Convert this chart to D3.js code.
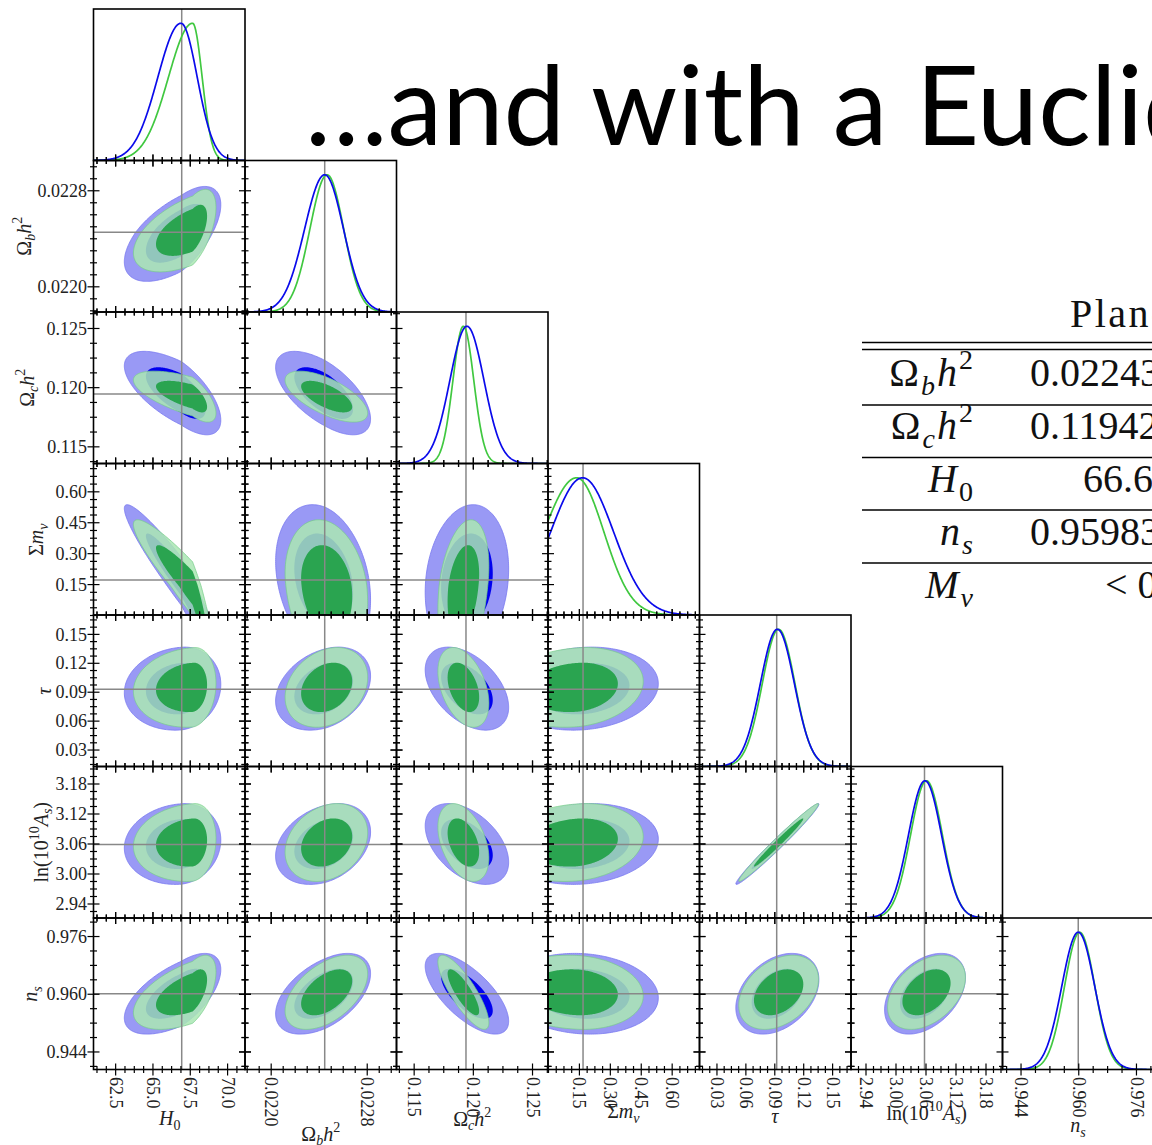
<!DOCTYPE html>
<html>
<head>
<meta charset="utf-8">
<script src="https://cdn.jsdelivr.net/npm/d3@7"></script>
<style>
  body { margin: 0; background: #fff; }
  svg { display: block; }
</style>
</head>
<body>
<svg id="fig" width="1152" height="1145"></svg>
<script>
// ---------------- parameters and axes ----------------
const paramNames = ["H0", "omegabh2", "omegach2", "mnu", "tau", "logA", "ns"];
const axisLo = [61.05, 0.021786, 0.11355, 0.0, 0.0124, 2.911, 0.939];
const axisHi = [71.2, 0.023048, 0.12635, 0.735, 0.1696, 3.214, 0.981];
const truthValues = [66.96, 0.02245, 0.11942, 0.17, 0.0925, 3.058, 0.960];
const tickLabelValues = [
  [62.5, 65.0, 67.5, 70.0],
  [0.0220, 0.0228],
  [0.115, 0.120, 0.125],
  [0.15, 0.30, 0.45, 0.60],
  [0.03, 0.06, 0.09, 0.12, 0.15],
  [2.94, 3.00, 3.06, 3.12, 3.18],
  [0.944, 0.960, 0.976]
];
const tickDecimals = [1, 4, 3, 2, 2, 2, 3];
const minorStep = [0.625, 0.0001, 0.00125, 0.0375, 0.0075, 0.015, 0.004];

// axis label pieces: t = text, it = italic, sub / sup = script position
const axisLabelParts = [
  [{t: "H", it: 1}, {t: "0", sub: 1}],
  [{t: "Ω"}, {t: "b", it: 1, sub: 1}, {t: "h", it: 1}, {t: "2", sup: 1}],
  [{t: "Ω"}, {t: "c", it: 1, sub: 1}, {t: "h", it: 1}, {t: "2", sup: 1}],
  [{t: "Σ"}, {t: "m", it: 1}, {t: "ν", it: 1, sub: 1}],
  [{t: "τ", it: 1}],
  [{t: "ln(10"}, {t: "10", sup: 1}, {t: "A", it: 1}, {t: "s", it: 1, sub: 1}, {t: ")"}],
  [{t: "n", it: 1}, {t: "s", it: 1, sub: 1}]
];

// ---------------- posterior summaries (blue and green runs) ----------------
// mode, lower / upper widths (split normal) for each parameter
const blueMode      = [66.91, 0.02245, 0.11950, 0.168, 0.0932, 3.059, 0.9600];
const blueSigmaLow  = [1.55, 0.000167, 0.00144, 0.155, 0.0176, 0.033, 0.00457];
const blueSigmaHigh = [1.09, 0.000156, 0.00144, 0.150, 0.0176, 0.033, 0.00457];
const greenMode      = [67.69, 0.02247, 0.11920, 0.139, 0.0945, 3.062, 0.9604];
const greenSigmaLow  = [1.62, 0.000143, 0.00088, 0.160, 0.0169, 0.0318, 0.0042];
const greenSigmaHigh = [0.64, 0.000138, 0.00088, 0.132, 0.0169, 0.0318, 0.0042];
// correlation of (row parameter, column parameter), lower triangle
const blueCorr = [
  [],
  [0.60],
  [-0.65, -0.62],
  [-0.95, -0.25, 0.15],
  [0.10, 0.30, -0.45, 0.12],
  [0.10, 0.30, -0.45, 0.12, 0.985],
  [0.60, 0.50, -0.68, -0.10, 0.35, 0.40]
];
const greenCorr = [
  [],
  [0.55],
  [-0.65, -0.65],
  [-0.93, -0.20, 0.30],
  [0.10, 0.25, -0.40, 0.15],
  [0.10, 0.25, -0.40, 0.15, 0.985],
  [0.55, 0.50, -0.82, -0.10, 0.35, 0.40]
];
const contourRadius = {inner: 1.515, outer: 2.448}; // 68% and 95% in two dimensions

// ---------------- table ----------------
const tableHeader = "Planck";
const tableSymbols = [
  [{t: "Ω"}, {t: "b", it: 1, sub: 1}, {t: "h", it: 1}, {t: "2", sup: 1}],
  [{t: "Ω"}, {t: "c", it: 1, sub: 1}, {t: "h", it: 1}, {t: "2", sup: 1}],
  [{t: "H", it: 1}, {t: "0", sub: 1}],
  [{t: "n", it: 1}, {t: "s", it: 1, sub: 1}],
  [{t: "M", it: 1}, {t: "ν", it: 1, sub: 1}]
];
const tableValues = ["0.02243", "0.11942", "66.6", "0.95983", "< 0"];

const titleText = "…and with a Euclid";

// ---------------- layout ----------------
const N = paramNames.length;
const X0 = 93.5, Y0 = 9, CELL = 151.5;
const SERIF = "'Liberation Serif', 'DejaVu Serif', serif";
// centres of the axis titles (x titles: vertical centre, y titles: horizontal centre)
const xTitleCentreY = [1120, 1134, 1119, 1113, 1116, 1113, 1127];
const yTitleCentreX = [0, 24, 27, 38, 43.5, 41, 32];
const col = {
  blueOuter: "rgb(153,153,245)", blueOuterEdge: "rgb(120,120,240)",
  blueInner: "rgb(0,0,238)",
  greenOuter: "rgba(170,230,179,0.86)", greenOuterEdge: "rgba(120,205,140,0.9)",
  greenInner: "rgb(42,164,80)",
  blueLine: "rgb(10,10,235)", greenLine: "rgb(64,200,64)",
  truth: "#888"
};

const svg = d3.select("#fig");
const defs = svg.append("defs");

const xScale = d3.range(N).map(i => d3.scaleLinear().domain([axisLo[i], axisHi[i]])
  .range([X0 + i * CELL, X0 + (i + 1) * CELL]));
const yScale = d3.range(N).map(i => d3.scaleLinear().domain([axisLo[i], axisHi[i]])
  .range([Y0 + (i + 1) * CELL, Y0 + i * CELL]));

function splitWidth(z, lo, hi) { return z < 0 ? lo : hi; }
function density(x, m, lo, hi) {
  const s = x < m ? lo : hi;
  return Math.exp(-0.5 * ((x - m) / s) ** 2);
}

// math-style text built from pieces
function addMath(textSel, parts, size) {
  let cur = 0;
  parts.forEach(p => {
    const target = p.sub ? size * 0.22 : (p.sup ? -size * 0.42 : 0);
    const ts = textSel.append("tspan").text(p.t).attr("dy", target - cur);
    cur = target;
    if (p.it) ts.attr("font-style", "italic");
    if (p.sub || p.sup) ts.attr("font-size", size * 0.7);
  });
}

const panels = svg.append("g");

function cellClip(i, j) {
  const id = `clip-${i}-${j}`;
  defs.append("clipPath").attr("id", id).append("rect")
    .attr("x", X0 + j * CELL).attr("y", Y0 + i * CELL)
    .attr("width", CELL).attr("height", CELL);
  return `url(#${id})`;
}

const lineGen = d3.line().curve(d3.curveLinearClosed);

function contourPath(i, j, mode, sLo, sHi, rho, r) {
  const pts = d3.range(0, 2 * Math.PI, Math.PI / 120).map(t => {
    const u = r * Math.cos(t), v = r * Math.sin(t);
    const zx = u, zy = rho * u + Math.sqrt(1 - rho * rho) * v;
    const xv = mode[j] + zx * splitWidth(zx, sLo[j], sHi[j]);
    const yv = mode[i] + zy * splitWidth(zy, sLo[i], sHi[i]);
    return [xScale[j](xv), yScale[i](yv)];
  });
  return lineGen(pts);
}

for (let i = 0; i < N; i++) {
  for (let j = 0; j <= i; j++) {
    const g = panels.append("g").attr("clip-path", cellClip(i, j));
    const top = Y0 + i * CELL, bottom = Y0 + (i + 1) * CELL;
    const left = X0 + j * CELL, right = X0 + (j + 1) * CELL;
    if (i === j) {
      const dy = d3.scaleLinear().domain([0, 1.104]).range([bottom, top]);
      const xs = d3.range(401).map(k => axisLo[i] + (axisHi[i] - axisLo[i]) * k / 400);
      const curve = (m, lo, hi) => d3.line()
        .x(x => xScale[i](x)).y(x => dy(density(x, m[i], lo[i], hi[i])))
        .curve(d3.curveLinear)(xs);
      g.append("line").attr("x1", xScale[i](truthValues[i])).attr("x2", xScale[i](truthValues[i]))
        .attr("y1", top).attr("y2", bottom).attr("stroke", col.truth).attr("stroke-width", 1.5);
      g.append("path").attr("d", curve(greenMode, greenSigmaLow, greenSigmaHigh))
        .attr("fill", "none").attr("stroke", col.greenLine).attr("stroke-width", 1.7);
      g.append("path").attr("d", curve(blueMode, blueSigmaLow, blueSigmaHigh))
        .attr("fill", "none").attr("stroke", col.blueLine).attr("stroke-width", 1.7);
    } else {
      const rb = blueCorr[i][j], rg = greenCorr[i][j];
      g.append("path").attr("d", contourPath(i, j, blueMode, blueSigmaLow, blueSigmaHigh, rb, contourRadius.outer))
        .attr("fill", col.blueOuter).attr("stroke", col.blueOuterEdge).attr("stroke-width", 0.8);
      g.append("path").attr("d", contourPath(i, j, blueMode, blueSigmaLow, blueSigmaHigh, rb, contourRadius.inner))
        .attr("fill", col.blueInner);
      g.append("path").attr("d", contourPath(i, j, greenMode, greenSigmaLow, greenSigmaHigh, rg, contourRadius.outer))
        .attr("fill", col.greenOuter).attr("stroke", col.greenOuterEdge).attr("stroke-width", 0.8);
      g.append("path").attr("d", contourPath(i, j, greenMode, greenSigmaLow, greenSigmaHigh, rg, contourRadius.inner))
        .attr("fill", col.greenInner);
      g.append("line").attr("x1", xScale[j](truthValues[j])).attr("x2", xScale[j](truthValues[j]))
        .attr("y1", top).attr("y2", bottom).attr("stroke", col.truth).attr("stroke-width", 1.5);
      g.append("line").attr("y1", yScale[i](truthValues[i])).attr("y2", yScale[i](truthValues[i]))
        .attr("x1", left).attr("x2", right).attr("stroke", col.truth).attr("stroke-width", 1.5);
    }
  }
}

// ---------------- ticks (in-out on every edge of 2D panels, bottom of 1D panels) ----------------
function minorValues(k) {
  const step = minorStep[k];
  const n0 = Math.ceil(axisLo[k] / step - 1e-6), n1 = Math.floor(axisHi[k] / step + 1e-6);
  return d3.range(n0, n1 + 1).map(n => n * step)
    .filter(v => !tickLabelValues[k].some(t => Math.abs(t - v) < step * 0.1));
}
const tickLayer = svg.append("g");
function ticks(scale, horizontal, pos, values, half) {
  const axis = (horizontal ? d3.axisBottom(scale) : d3.axisRight(scale))
    .tickValues(values).tickSize(half * 2).tickSizeOuter(0).tickFormat("");
  const ag = tickLayer.append("g")
    .attr("transform", horizontal ? `translate(0,${pos - half})` : `translate(${pos - half},0)`)
    .call(axis);
  ag.select(".domain").remove();
  ag.selectAll("line").attr("stroke", "#000").attr("stroke-width", 1.2);
}
function allTicks(scale, horizontal, pos, k) {
  ticks(scale, horizontal, pos, tickLabelValues[k], 6);
  ticks(scale, horizontal, pos, minorValues(k), 3.5);
}
for (let i = 0; i < N; i++) {
  for (let j = 0; j <= i; j++) {
    const top = Y0 + i * CELL, bottom = Y0 + (i + 1) * CELL;
    const left = X0 + j * CELL, right = X0 + (j + 1) * CELL;
    allTicks(xScale[j], true, bottom, j);
    if (i !== j) {
      allTicks(xScale[j], true, top, j);
      allTicks(yScale[i], false, left, i);
      allTicks(yScale[i], false, right, i);
    }
  }
}

// frames
const frames = svg.append("g");
for (let i = 0; i < N; i++) {
  for (let j = 0; j <= i; j++) {
    frames.append("rect").attr("x", X0 + j * CELL).attr("y", Y0 + i * CELL)
      .attr("width", CELL).attr("height", CELL)
      .attr("fill", "none").attr("stroke", "#000").attr("stroke-width", 1.6);
  }
}

// ---------------- tick labels and axis titles ----------------
const TICK_FS = 18, LABEL_FS = 20;
const bottomY = Y0 + N * CELL;
for (let j = 0; j < N; j++) {
  const ag = svg.append("g").attr("transform", `translate(0,${bottomY})`)
    .call(d3.axisBottom(xScale[j]).tickValues(tickLabelValues[j]).tickSize(0)
      .tickFormat(d3.format(`.${tickDecimals[j]}f`)));
  ag.select(".domain").remove();
  ag.selectAll("text")
    .attr("transform", "rotate(90)").attr("x", 7.5).attr("y", 0).attr("dy", "0.33em")
    .attr("text-anchor", "start").attr("font-family", SERIF).attr("font-size", TICK_FS).attr("fill", "#222");
  const lab = svg.append("text").attr("font-family", SERIF).attr("font-size", LABEL_FS).attr("fill", "#222");
  addMath(lab, axisLabelParts[j], LABEL_FS);
  const bb = lab.node().getBBox();
  lab.attr("transform", `translate(${X0 + (j + 0.5) * CELL - (bb.x + bb.width / 2)},${xTitleCentreY[j] - (bb.y + bb.height / 2)})`);
}
for (let i = 1; i < N; i++) {
  const ag = svg.append("g").attr("transform", `translate(${X0},0)`)
    .call(d3.axisLeft(yScale[i]).tickValues(tickLabelValues[i]).tickSize(0).tickPadding(6.5)
      .tickFormat(d3.format(`.${tickDecimals[i]}f`)));
  ag.select(".domain").remove();
  ag.selectAll("text").attr("font-family", SERIF).attr("font-size", TICK_FS).attr("fill", "#222")
    .attr("dy", "0.34em");
  const lab = svg.append("text").attr("font-family", SERIF).attr("font-size", LABEL_FS).attr("fill", "#222");
  addMath(lab, axisLabelParts[i], LABEL_FS);
  const bb = lab.node().getBBox();
  const cy = Y0 + (i + 0.5) * CELL;
  lab.attr("transform", `translate(${yTitleCentreX[i]},${cy}) rotate(-90) translate(${-(bb.x + bb.width / 2)},${-(bb.y + bb.height / 2)})`);
}

// ---------------- title ----------------
svg.append("text").attr("x", 305).attr("y", 145)
  .attr("font-family", "Lato, 'Open Sans', sans-serif").attr("font-size", 110).attr("fill", "#000")
  .text(titleText);

// ---------------- summary table ----------------
const TAB_FS = 40;
const tab = svg.append("g").attr("font-family", SERIF).attr("font-size", TAB_FS).attr("fill", "#111");
tab.append("text").attr("x", 1070).attr("y", 327).attr("letter-spacing", 2.5).text(tableHeader);
const ruleYs = [342.5, 349.5, 405, 457.5, 510, 563];
ruleYs.forEach(y => tab.append("line").attr("x1", 862).attr("x2", 1152).attr("y1", y).attr("y2", y)
  .attr("stroke", "#000").attr("stroke-width", 1.6));
const rowBase = [386, 439, 492, 545, 598];
const valueX = [1030, 1030, 1083, 1030, 1105];
tableSymbols.forEach((parts, r) => {
  const t = tab.append("text").attr("x", 975).attr("y", rowBase[r]).attr("text-anchor", "end")
    .attr("letter-spacing", 2);
  addMath(t, parts, TAB_FS);
  tab.append("text").attr("x", valueX[r]).attr("y", rowBase[r]).text(tableValues[r]);
});
</script>
</body>
</html>
